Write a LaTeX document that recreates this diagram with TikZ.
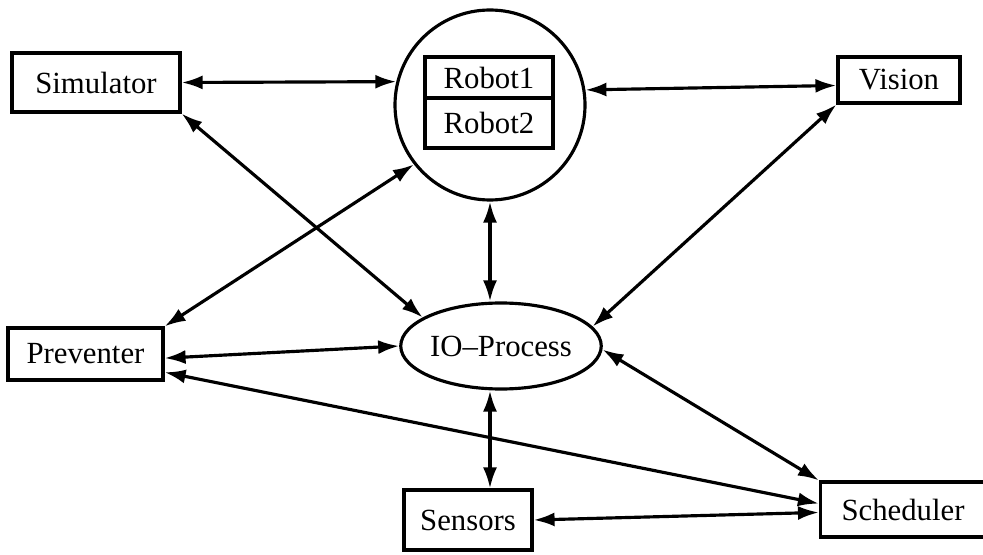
\documentclass[tikz,border=0pt]{standalone}
\usepackage{fontspec}
\setmainfont{Liberation Serif}
\usetikzlibrary{arrows.meta,positioning,shapes.geometric}

\begin{document}
\begin{tikzpicture}[every node/.style={font=\fontsize{17.5}{21}\selectfont}, >={Latex[length=4.2mm,width=2.8mm]}, line width=1.8pt]
	\useasboundingbox (0,0) rectangle (19.66,11.08);
	\tikzset{box/.style={draw, rectangle, inner sep=0pt}, link/.style={<->}}
	% processes
	\node[box, minimum width=3.36cm, minimum height=1.18cm] (sim) at (1.92,9.43) {Simulator};
	\node[draw, circle, minimum size=3.8cm, inner sep=0pt] (robot) at (9.8,8.98) {};
	\node[box, minimum width=2.56cm, minimum height=0.82cm] (robot1) at (9.78,9.53) {Robot1};
	\node[box, minimum width=2.56cm, minimum height=1.0cm, below=-1.8pt of robot1] (robot2) {Robot2};
	\node[box, minimum width=2.44cm, minimum height=0.92cm] (vision) at (17.98,9.48) {Vision};
	\node[box, minimum width=3.1cm, minimum height=1.04cm] (prev) at (1.71,4.0) {Preventer};
	\node[draw, ellipse, minimum width=3.84cm, minimum height=1.72cm, inner sep=0pt] (io) at (10.02,4.16) {IO--Process};
	\node[box, minimum width=2.56cm, minimum height=1.2cm] (sens) at (9.36,0.68) {Sensors};
	\node[box, minimum width=3.3cm, minimum height=1.1cm] (sched) at (18.06,0.89) {Scheduler};
	% message channels
	\draw[link] (sim.east) -- (robot.166);
	\draw[link] (sim.south east) -- (io.160);
	\draw[link] (robot.218) -- (prev.north east);
	\draw[link] (robot.9) -- (vision.185);
	\draw[link] (vision.south west) -- (io.12);
	\draw[link] (robot.south) -- (robot.south |- io.north);
	\draw[link] (prev.357) -- (io.west);
	\draw[link] (prev.347) -- (sched.176);
	\draw[link] (io.358) -- (sched.north west);
	\draw[link] (io.south -| robot.south) -- (robot.south |- sens.north);
	\draw[link] (sens.east) -- (sched.182);
\end{tikzpicture}
\end{document}
